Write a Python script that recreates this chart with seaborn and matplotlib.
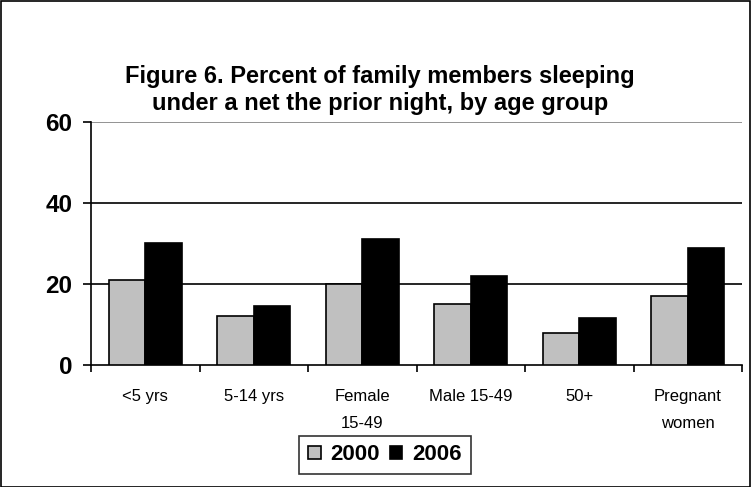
import pandas as pd
import matplotlib.pyplot as plt
import seaborn as sns
from matplotlib.patches import Rectangle

categories = ['<5 yrs', '5-14 yrs', 'Female\n15-49', 'Male 15-49', '50+', 'Pregnant\nwomen']
years = ['2000', '2006']
values_2000 = [21, 12, 20, 15, 8, 17]
values_2006 = [30, 14.5, 31, 22, 11.5, 29]
y_ticks = [0, 20, 40, 60]

df = pd.DataFrame({
    'group': categories * 2,
    'year': [years[0]] * len(categories) + [years[1]] * len(categories),
    'pct': values_2000 + values_2006,
})

sns.set_style('white')
plt.rcParams['font.family'] = ['Liberation Sans', 'DejaVu Sans']
plt.rcParams['text.color'] = 'black'
plt.rcParams['xtick.color'] = 'black'
plt.rcParams['ytick.color'] = 'black'

fig = plt.figure(figsize=(7.52, 4.87), dpi=100)
ax = fig.add_axes([91 / 752, 1 - 365 / 487, 651 / 752, 243 / 487])

sns.barplot(data=df, x='group', y='pct', hue='year', palette=['#c0c0c0', '#000000'],
            edgecolor='black', linewidth=1.2, width=0.67, gap=0, ax=ax, legend=True, zorder=3)

ax.set_ylim(0, 60)
ax.set_xlim(-0.5, len(categories) - 0.5)
ax.set_yticks(y_ticks)
ax.set_yticklabels([str(t) for t in y_ticks], fontsize=17.5, fontweight='bold')
for t in y_ticks[1:]:
    ax.axhline(t, color='black' if t < 60 else '#808080', linewidth=1.2, zorder=1)

# category boundary ticks
ax.set_xticks([i - 0.5 for i in range(len(categories) + 1)], minor=False)
ax.set_xticklabels([])
ax.set_xticks(range(len(categories)), minor=True)
ax.set_xticklabels(categories, minor=True, fontsize=12)
ax.tick_params(axis='x', which='minor', length=0, pad=17)
ax.tick_params(axis='x', which='major', length=5, width=1.2, color='black', direction='out')
ax.tick_params(axis='y', length=5.5, width=1.2, color='black', direction='out', pad=8)
ax.tick_params(bottom=True, left=True)
for lbl in ax.get_xticklabels(minor=True):
    lbl.set_verticalalignment('top')
    lbl.set_linespacing(2.05)

for side in ['top', 'right']:
    ax.spines[side].set_visible(False)
for side in ['left', 'bottom']:
    ax.spines[side].set_color('black')
    ax.spines[side].set_linewidth(1.2)

ax.set_xlabel('')
ax.set_ylabel('')

leg = ax.legend(loc='center', bbox_to_anchor=(385 / 752, 1 - 455 / 487), bbox_transform=fig.transFigure,
                ncol=2, frameon=True, fancybox=False, handlelength=0.55, handleheight=0.55,
                handletextpad=0.45, columnspacing=0.45, borderpad=0.4,
                prop={'weight': 'bold', 'size': 16})
leg.get_frame().set_edgecolor('black')
leg.get_frame().set_linewidth(1.2)

fig.text(380 / 752, 1 - 90 / 487, 'Figure 6. Percent of family members sleeping\nunder a net the prior night, by age group',
         ha='center', va='center', fontsize=17, fontweight='bold', linespacing=1.2)

fig.patches.append(Rectangle((0.001, 0.001), 0.997, 0.997, transform=fig.transFigure,
                             fill=False, edgecolor='black', linewidth=1.2))

fig.savefig('out.png', dpi=100)
